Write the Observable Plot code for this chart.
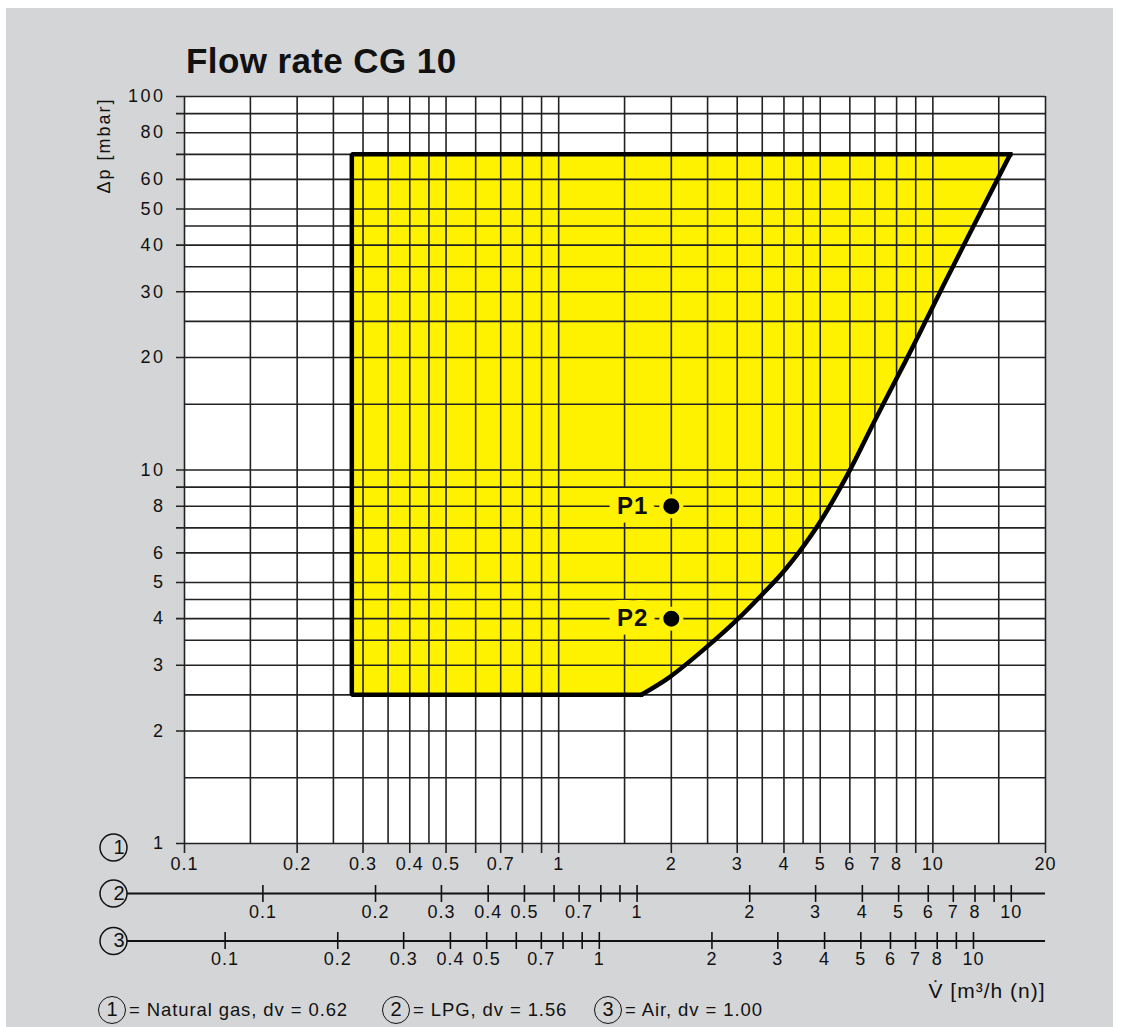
<!DOCTYPE html>
<html>
<head>
<meta charset="utf-8">
<script src="https://cdn.jsdelivr.net/npm/d3@7"></script>
<script src="https://cdn.jsdelivr.net/npm/@observablehq/plot@0.6"></script>
<style>
  body { margin: 0; background: #ffffff; }
  #wrap { position: relative; width: 1121px; height: 1027px; overflow: hidden;
          font-family: "Liberation Sans", Arial, sans-serif; color: #111; }
  #bg { position: absolute; left: 6px; top: 8px; width: 1107px; height: 1040px; background: #d4d5d7; }
  #title { position: absolute; left: 186px; top: 43px; font-weight: bold; font-size: 35px;
           line-height: 35px; letter-spacing: 0.4px; white-space: nowrap; }
  #chart { position: absolute; left: 0; top: 0; }
  .leg { position: absolute; top: 996px; height: 27px; line-height: 27px; font-size: 18.5px;
         letter-spacing: 0.9px; white-space: nowrap; }
  .circ { display: inline-block; box-sizing: border-box; width: 28px; height: 28px; border: 1.5px solid #111;
          border-radius: 50%; text-align: center; line-height: 25px; font-size: 20px; letter-spacing: 0;
          vertical-align: top; margin-right: 3px; }
</style>
</head>
<body>
<div id="wrap">
  <div id="bg"></div>
  <div id="title">Flow rate CG 10</div>
  <div id="chart"></div>
  <div class="leg" style="left:98px"><span class="circ">1</span>= Natural gas, dv = 0.62</div>
  <div class="leg" style="left:382px"><span class="circ">2</span>= LPG, dv = 1.56</div>
  <div class="leg" style="left:594px"><span class="circ">3</span>= Air, dv = 1.00</div>
</div>
<script>
// ---------------- data ----------------
// Grid lines (natural gas flow, m3/h) and pressure drop (mbar)
const xGrid = [0.1, 0.15, 0.2, 0.25, 0.3, 0.35, 0.4, 0.45, 0.5, 0.6, 0.7, 0.8, 0.9, 1,
               1.5, 2, 2.5, 3, 3.5, 4, 4.5, 5, 6, 7, 8, 9, 10, 15, 20];
const xTickMarks = [0.1, 0.2, 0.3, 0.4, 0.5, 0.6, 0.7, 0.8, 0.9, 1, 2, 3, 4, 5, 6, 7, 8, 9, 10, 20];
const xLabels = [0.1, 0.2, 0.3, 0.4, 0.5, 0.7, 1, 2, 3, 4, 5, 6, 7, 8, 10, 20];

const yGrid = [1, 1.5, 2, 2.5, 3, 3.5, 4, 4.5, 5, 6, 7, 8, 9, 10, 15, 20, 25, 30, 35, 40, 45,
               50, 60, 70, 80, 90, 100];
const yTickMarks = [1, 2, 3, 4, 5, 6, 7, 8, 9, 10, 20, 30, 40, 50, 60, 70, 80, 90, 100];
const yLabels = [1, 2, 3, 4, 5, 6, 8, 10, 20, 30, 40, 50, 60, 80, 100];

// Secondary scales: LPG (2) and Air (3)
const lpgFactor = 1.62;
const airFactor = 1.284;  // natural-gas flow equivalent to 1 m3/h air
const lpgTicks = [0.1, 0.2, 0.3, 0.4, 0.5, 0.6, 0.7, 0.8, 0.9, 1, 2, 3, 4, 5, 6, 7, 8, 9, 10];
const lpgLabels = [0.1, 0.2, 0.3, 0.4, 0.5, 0.7, 1, 2, 3, 4, 5, 6, 7, 8, 10];
const airTicks = [0.1, 0.2, 0.3, 0.4, 0.5, 0.6, 0.7, 0.8, 0.9, 1, 2, 3, 4, 5, 6, 7, 8, 9, 10];
const airLabels = [0.1, 0.2, 0.3, 0.4, 0.5, 0.7, 1, 2, 3, 4, 5, 6, 7, 8, 10];

// Working range (yellow area): left limit, top and bottom limits, right-hand limit curve
const rangeMinFlow = 0.28;
const rangeMaxDp = 70;
const rangeMinDp = 2.5;
const curveFlow = [1.66, 1.98, 2.48, 2.98, 3.51, 3.96, 4.44, 4.97, 5.91, 7.03, 8.46, 9.56, 10.7, 16.1];
const curveDp   = [2.5,  2.79, 3.35, 3.95, 4.66, 5.3,  6.12, 7.2,  9.7,  13.7, 19.6, 25.0, 31.4, 70];

// Operating points
const pointNames = ["P1", "P2"];
const pointFlow = [2, 2];
const pointDp = [8, 4];

// ---------------- chart ----------------
const W = 1121, H = 1027;
const mL = 184, mR = 76, mT = 96, mB = 184;
const frameH = H - mT - mB;
const ink = "#111";
const gridColor = "#222";
const yellow = "#fff200";
const fontY = "'Liberation Sans', Arial, sans-serif";
const fontYT = "Liberation Sans, Arial, sans-serif";

const curve = curveFlow.map((v, i) => ({V: v, dp: curveDp[i]}));
const boxEdge = [
  {V: curveFlow[0], dp: rangeMinDp},
  {V: rangeMinFlow, dp: rangeMinDp},
  {V: rangeMinFlow, dp: rangeMaxDp},
  {V: curveFlow[curveFlow.length - 1], dp: rangeMaxDp}
];
const points = pointNames.map((n, i) => ({name: n, V: pointFlow[i], dp: pointDp[i]}));

const xPlain = xGrid.filter(v => !xTickMarks.includes(v));
const yPlain = yGrid.filter(v => !yTickMarks.includes(v));

const circleOffsets = [4, 50, 97.5];

const marks = [
  Plot.frame({fill: "white", stroke: null}),
  Plot.areaX(curve, {y: "dp", x1: rangeMinFlow, x2: "V", fill: yellow, curve: "catmull-rom"}),
  Plot.ruleX(xPlain, {x: d => d, stroke: gridColor, strokeWidth: 1.6}),
  Plot.ruleX(xTickMarks, {x: d => d, stroke: gridColor, strokeWidth: 1.6, insetBottom: -10}),
  Plot.ruleY(yPlain, {y: d => d, stroke: gridColor, strokeWidth: 1.6}),
  Plot.ruleY(yTickMarks, {y: d => d, stroke: gridColor, strokeWidth: 1.6, insetLeft: -8}),
  Plot.line(boxEdge, {x: "V", y: "dp", stroke: "#000", strokeWidth: 4.5, strokeLinejoin: "miter",
                      strokeLinecap: "square"}),
  Plot.line(curve, {x: "V", y: "dp", stroke: "#000", strokeWidth: 4.5, curve: "catmull-rom",
                    strokeLinecap: "round"}),
  Plot.dot(points, {x: "V", y: "dp", r: 10, fill: "#000", stroke: yellow, strokeWidth: 4}),
  Plot.text(points, {x: "V", y: "dp", text: "name", textAnchor: "end", dx: -23, fontSize: 24,
                     fontWeight: "bold", fill: ink, stroke: yellow, strokeWidth: 18,
                     strokeLinejoin: "round", paintOrder: "stroke"}),
  // y labels
  Plot.text(yLabels, {y: d => d, text: d => String(d), frameAnchor: "left", dx: -19,
                      textAnchor: "end", fontSize: 18, fill: ink, fontFamily: fontY}),
  // x labels (natural gas)
  Plot.text(xLabels, {x: d => d, text: d => String(d), frameAnchor: "bottom", dy: 26,
                      fontSize: 18, fill: ink}),
  // LPG scale
  Plot.ruleY([1], {y: d => d, dy: 50, insetLeft: -57, stroke: ink, strokeWidth: 2}),
  Plot.ruleX(lpgTicks, {x: d => d * lpgFactor, insetTop: frameH - 17, dy: 59, stroke: ink, strokeWidth: 1.6}),
  Plot.text(lpgLabels, {x: d => d * lpgFactor, text: d => String(d), frameAnchor: "bottom", dy: 74,
                        fontSize: 18, fill: ink}),
  // Air scale
  Plot.ruleY([1], {y: d => d, dy: 97.5, insetLeft: -57, stroke: ink, strokeWidth: 2}),
  Plot.ruleX(airTicks, {x: d => d * airFactor, insetTop: frameH - 17, dy: 106, stroke: ink, strokeWidth: 1.6}),
  Plot.text(airLabels, {x: d => d * airFactor, text: d => String(d), frameAnchor: "bottom", dy: 121,
                        fontSize: 18, fill: ink}),
  // axis titles
  Plot.text(["Δp [mbar]"], {text: d => d, frameAnchor: "top-left", dx: -87, dy: 1, rotate: -90,
                            textAnchor: "end", fontSize: 18, fill: ink, fontFamily: fontYT}),
  Plot.text(["V̇ [m³/h (n)]"], {text: d => d, frameAnchor: "bottom-right", dy: 154, textAnchor: "end",
                               fontSize: 21, fill: ink})
];
circleOffsets.forEach((off, i) => {
  marks.push(Plot.dot([1], {y: d => d, frameAnchor: "left", dx: -71, dy: off, r: 13.5,
                            stroke: ink, strokeWidth: 1.5, fill: "none"}));
  marks.push(Plot.text([String(i + 1)], {y: () => 1, text: d => d, frameAnchor: "left", dx: -71,
                            dy: off, fontSize: 20, fill: ink}));
});

const chart = Plot.plot({
  width: W, height: H,
  marginLeft: mL, marginRight: mR, marginTop: mT, marginBottom: mB,
  x: {type: "log", domain: [0.1, 20], axis: null},
  y: {type: "log", domain: [1, 100], axis: null},
  style: "background: transparent; overflow: visible; color: #111; font-family: 'Liberation Sans', Arial, sans-serif; letter-spacing: 1px;",
  marks
});
chart.querySelectorAll("g").forEach(g => {
  const f = g.getAttribute("font-family");
  if (f === fontY) g.setAttribute("letter-spacing", "2.5px");
  if (f === fontYT) g.setAttribute("letter-spacing", "2px");
});
document.getElementById("chart").appendChild(chart);
</script>
</body>
</html>
